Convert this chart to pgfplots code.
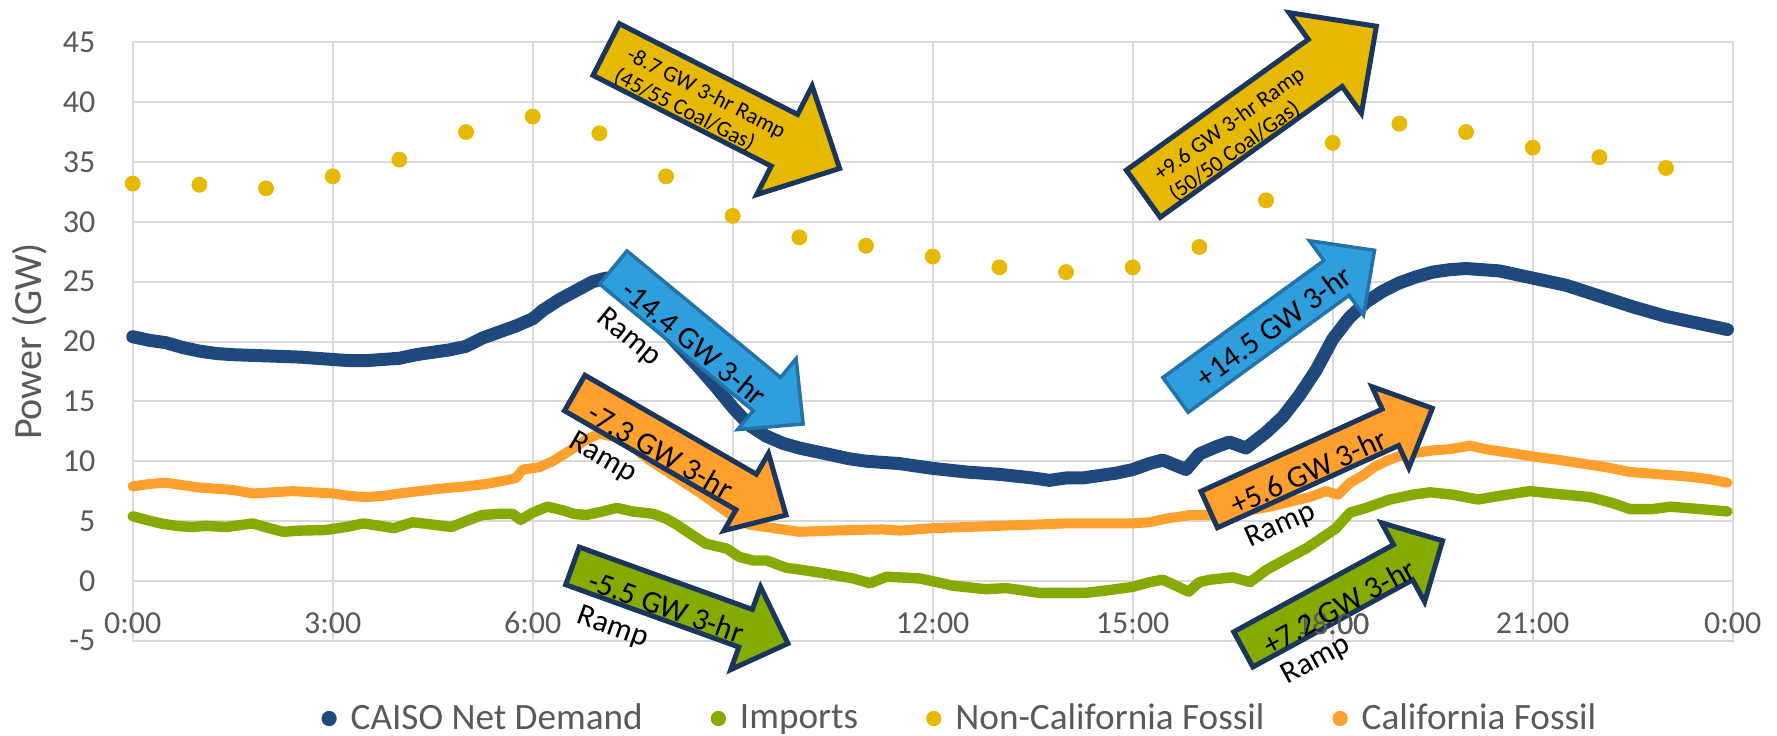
\documentclass[border=0pt]{standalone}
\usepackage{pgfplots}
\pgfplotsset{compat=1.18}
\usepackage{fontspec}
\setmainfont{Carlito}

\definecolor{netblue}{HTML}{1F497D}
\definecolor{impgreen}{HTML}{86AB00}
\definecolor{ncgold}{HTML}{E6B800}
\definecolor{cforange}{HTML}{FF9F2D}
\definecolor{gridgray}{HTML}{D9D9D9}
\definecolor{labelgray}{HTML}{595959}
\definecolor{navy}{HTML}{1A365D}
\definecolor{skyfill}{HTML}{2E9FDC}
\definecolor{skyedge}{HTML}{2373A8}

% block arrow: tail centre, angle, length, shaft half-width, head half-width, head length, style
\newcommand{\ramparrow}[7]{%
  \begin{scope}[shift={#1}, rotate=#2, x=0.5pt, y=0.5pt]
    \filldraw[#7] (0,-#4) -- ({#3-#6},-#4) -- ({#3-#6},-#5) -- (#3,0)
      -- ({#3-#6},#5) -- ({#3-#6},#4) -- (0,#4) -- cycle;
  \end{scope}}
% text line inside an arrow: tail centre, angle, along, across, size, text
\newcommand{\arrowtext}[6]{%
  \begin{scope}[shift={#1}, rotate=#2, x=0.5pt, y=0.5pt]
    \node[rotate=#2, anchor=base west, inner sep=0pt,
          font=\fontsize{#5}{#5}\selectfont] at (#3,#4) {#6};
  \end{scope}}

\begin{document}
\begin{tikzpicture}
\path[use as bounding box] (0,0) rectangle (888.5pt,-367.5pt);
\begin{axis}[
  at={(66.35pt,-320.35pt)}, anchor=south west,
  scale only axis, width=800pt, height=299.2pt,
  xmin=0, xmax=24, ymin=-5, ymax=45,
  xtick={0,3,...,24},
  xticklabels={0:00,3:00,6:00,9:00,12:00,15:00,18:00,21:00,0:00},
  ytick={-5,0,...,45},
  yticklabels={-5,0,5,10,15,20,25,30,35,40,45},
  grid=major,
  major grid style={draw=gridgray, line width=1pt},
  axis line style={draw=gridgray, line width=1pt},
  major tick length=0pt,
  tick label style={font=\fontsize{16}{19}\selectfont, text=labelgray},
  xticklabel style={anchor=center, inner sep=0pt, yshift=8.7pt},
  yticklabel style={anchor=east, inner sep=0pt, xshift=-18.5pt},
  ylabel={Power (GW)},
  every axis y label/.style={at={(axis description cs:-0.0645,0.5)},
    rotate=90, anchor=center, font=\fontsize{20}{24}\selectfont, text=labelgray},
  clip=false,
  legend columns=4,
  legend style={at={(axis description cs:0.118,-0.13)}, anchor=west,
    draw=none, fill=none, inner sep=0pt, outer sep=0pt,
    font=\fontsize{18.6}{22}\selectfont, text=labelgray,
    nodes={inner sep=2pt},
    /tikz/every odd column/.append style={column sep=5pt},
    /tikz/every even column/.append style={column sep=32pt}},
]

% CAISO net demand
\addplot[netblue, line width=6.5pt, line join=round, line cap=round, forget plot] table {
h v
0 20.4
0.25 20.1
0.5 19.9
0.75 19.5
1 19.2
1.25 19.0
1.5 18.9
2 18.8
2.5 18.7
3 18.5
3.25 18.4
3.5 18.4
3.75 18.5
4 18.6
4.25 18.9
4.5 19.1
4.75 19.3
5 19.6
5.25 20.3
5.5 20.8
5.75 21.3
6 21.9
6.15 22.6
6.4 23.5
6.7 24.4
6.9 25.0
7.1 25.3
7.3 25.2
7.5 24.3
7.75 22.6
8 20.8
8.25 19.3
8.5 17.8
8.75 16.2
9 14.5
9.25 13.0
9.5 12.1
9.75 11.5
10 11.1
10.25 10.8
10.5 10.5
10.75 10.2
11 10.0
11.5 9.8
12 9.4
12.5 9.1
13 8.9
13.5 8.6
13.75 8.4
14 8.6
14.25 8.6
14.5 8.8
14.75 9.0
15 9.3
15.25 9.8
15.45 10.1
15.8 9.3
16 10.6
16.25 11.2
16.45 11.6
16.7 11.1
17 12.4
17.25 13.7
17.5 15.5
17.75 17.6
18 20.2
18.25 22.0
18.5 23.3
18.75 24.2
19 24.9
19.25 25.4
19.5 25.8
19.75 26.0
20 26.1
20.5 25.9
21 25.3
21.5 24.7
22 23.8
22.5 22.9
23 22.1
23.5 21.5
23.92 21.0
};

% imports
\addplot[impgreen, line width=5.2pt, line join=round, line cap=round, forget plot] table {
h v
0 5.4
0.2 5.1
0.42 4.8
0.65 4.6
0.88 4.5
1.1 4.6
1.4 4.5
1.8 4.8
2.05 4.4
2.26 4.1
2.5 4.2
2.89 4.25
3.2 4.5
3.46 4.8
3.7 4.6
3.92 4.4
4.2 4.9
4.5 4.7
4.78 4.5
5.0 5.0
5.24 5.5
5.5 5.6
5.7 5.6
5.82 5.1
6.0 5.7
6.22 6.2
6.45 5.9
6.62 5.6
6.8 5.5
7.05 5.8
7.26 6.1
7.5 5.8
7.81 5.6
8.0 5.2
8.16 4.7
8.4 3.8
8.6 3.1
8.91 2.7
9.1 2.0
9.31 1.7
9.51 1.7
9.8 1.1
10.06 0.9
10.4 0.6
10.81 0.2
11.06 -0.2
11.31 0.35
11.81 0.2
12.3 -0.4
12.8 -0.7
13.1 -0.6
13.6 -1.0
14.0 -1.0
14.3 -1.0
14.6 -0.8
14.87 -0.6
15.0 -0.5
15.26 -0.1
15.45 0.1
15.84 -0.9
16.0 -0.1
16.16 0.1
16.5 0.3
16.76 -0.1
17.0 0.9
17.36 2.0
17.6 2.7
17.84 3.6
18.05 4.4
18.26 5.7
18.5 6.1
18.86 6.8
19.2 7.2
19.46 7.4
19.8 7.2
20.18 6.8
20.5 7.1
20.96 7.5
21.3 7.3
21.86 7.0
22.2 6.5
22.46 6.0
22.8 6.0
23.06 6.2
23.5 6.0
23.92 5.8
};

% non-California fossil, hourly
\addplot[only marks, mark=*, mark size=3.75pt, color=ncgold, forget plot] table {
h v
0 33.2
1 33.1
2 32.8
3 33.8
4 35.2
5 37.5
6 38.8
7 37.4
8 33.8
9 30.5
10 28.7
11 28.0
12 27.1
13 26.2
14 25.8
15 26.2
16 27.9
17 31.8
18 36.6
19 38.2
20 37.5
21 36.2
22 35.4
23 34.5
};

% California fossil
\addplot[cforange, line width=5pt, line join=round, line cap=round, forget plot] table {
h v
0 7.9
0.25 8.1
0.5 8.2
0.75 8.0
1 7.8
1.25 7.7
1.5 7.6
1.8 7.3
2.1 7.4
2.4 7.5
2.7 7.4
3 7.3
3.25 7.1
3.5 7.0
3.75 7.1
4 7.3
4.3 7.5
4.6 7.7
5 7.9
5.3 8.1
5.6 8.4
5.75 8.6
5.85 9.3
6.1 9.5
6.3 10.0
6.56 10.9
6.8 11.8
7.0 12.3
7.25 12.0
7.5 11.2
7.75 10.1
8 9.2
8.25 8.3
8.5 7.4
8.75 6.4
9 5.4
9.25 4.7
9.5 4.5
9.75 4.3
10 4.1
10.5 4.2
10.85 4.25
11.25 4.3
11.5 4.2
12 4.4
12.5 4.5
13 4.6
13.5 4.7
14 4.8
14.5 4.8
15 4.8
15.25 4.9
15.5 5.2
15.86 5.5
16.2 5.5
16.46 5.6
16.75 5.9
17.06 6.2
17.35 6.6
17.66 7.0
17.9 7.5
18.08 7.2
18.26 8.2
18.45 8.8
18.62 9.5
18.8 10.0
18.98 10.4
19.25 10.7
19.5 10.9
19.75 11.0
20.06 11.3
20.3 11.0
20.66 10.7
21 10.4
21.4 10.1
21.86 9.7
22.1 9.5
22.46 9.1
22.9 8.9
23.36 8.7
23.65 8.5
23.92 8.2
};

\addlegendimage{legend image code/.code={\fill[netblue] (0pt,0pt) circle (3.6pt);}}
\addlegendentry{CAISO Net Demand}
\addlegendimage{legend image code/.code={\fill[impgreen] (0pt,0pt) circle (3.6pt);}}
\addlegendentry{Imports}
\addlegendimage{legend image code/.code={\fill[ncgold] (0pt,0pt) circle (3.6pt);}}
\addlegendentry{Non-California Fossil}
\addlegendimage{legend image code/.code={\fill[cforange] (0pt,0pt) circle (3.6pt);}}
\addlegendentry{California Fossil}
\end{axis}

% ramp annotations (positions in image pixels, origin top left)
\begin{scope}[x=0.5pt, y=-0.5pt]
  \tikzset{navyedge/.style={draw=navy, line width=2.5pt, line join=miter},
           skyedge/.style={draw=skyedge, line width=1.75pt, line join=miter, fill=skyfill}}
  % morning ramps
  \ramparrow{(606.2,49.5)}{-27}{262}{29}{61}{62}{fill=ncgold, navyedge}
  \arrowtext{(606.2,49.5)}{-27}{21}{0}{11.2}{-8.7 GW 3-hr Ramp}
  \arrowtext{(606.2,49.5)}{-27}{19.5}{-25}{11.2}{(45/55 Coal/Gas)}

  \ramparrow{(613.3,267.5)}{-39.5}{246}{21.5}{46}{47}{skyedge}
  \arrowtext{(613.3,267.5)}{-39.5}{21}{-17}{15.5}{-14.4 GW 3-hr}
  \arrowtext{(613.3,267.5)}{-39.5}{20}{-52}{15.5}{Ramp}

  \ramparrow{(574.7,393)}{-30}{244}{20.5}{44.6}{46}{fill=cforange, navyedge}
  \arrowtext{(574.7,393)}{-30}{22}{-18}{15.5}{-7.3 GW 3-hr}
  \arrowtext{(574.7,393)}{-30}{20}{-50}{15.5}{Ramp}

  \ramparrow{(572.5,565.9)}{-19.8}{229}{20}{44}{45}{fill=impgreen, navyedge}
  \arrowtext{(572.5,565.9)}{-19.8}{21}{-17}{15.5}{-5.5 GW 3-hr}
  \arrowtext{(572.5,565.9)}{-19.8}{22}{-52}{15.5}{Ramp}

  % evening ramps
  \ramparrow{(1143.3,193.7)}{35.7}{287}{29}{62}{63}{fill=ncgold, navyedge}
  \arrowtext{(1143.3,193.7)}{35.7}{20.5}{-0.5}{11.2}{+9.6 GW 3-hr Ramp}
  \arrowtext{(1143.3,193.7)}{35.7}{21}{-25.5}{11.2}{(50/50 Coal/Gas)}

  \ramparrow{(1175.5,394.9)}{36}{246}{21.5}{46}{47}{skyedge}
  \arrowtext{(1175.5,394.9)}{36}{27.5}{-13}{15.5}{+14.5 GW 3-hr}

  \ramparrow{(1209.2,509.5)}{24.4}{245}{20}{44.6}{46}{fill=cforange, navyedge}
  \arrowtext{(1209.2,509.5)}{24.4}{21.5}{-17}{15.5}{+5.6 GW 3-hr}
  \arrowtext{(1209.2,509.5)}{24.4}{21.5}{-52}{15.5}{Ramp}

  \ramparrow{(1243.3,649.4)}{28.6}{227}{20}{45}{45}{fill=impgreen, navyedge}
  \node[inner sep=0pt, font=\fontsize{16}{19}\selectfont, text=labelgray] at (1332.7,623.3) {18:00};
  \arrowtext{(1243.3,649.4)}{28.6}{20}{-19}{15.5}{+7.2 GW 3-hr}
  \arrowtext{(1243.3,649.4)}{28.6}{21.8}{-52}{15.5}{Ramp}
\end{scope}
\end{tikzpicture}
\end{document}
